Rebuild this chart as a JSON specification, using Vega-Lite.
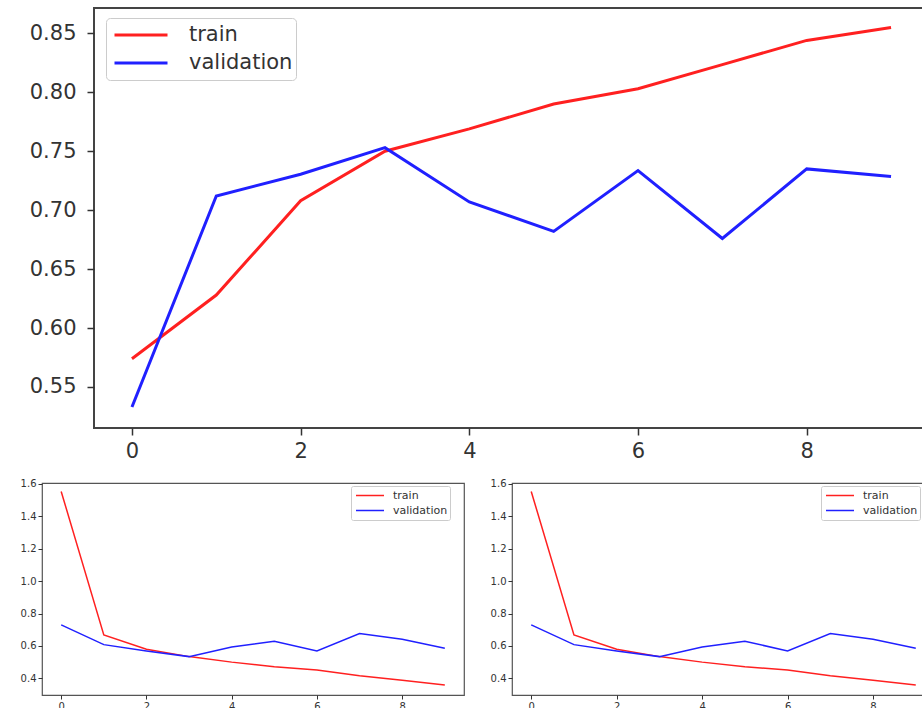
{
  "$schema": "https://vega.github.io/schema/vega-lite/v6.json",
  "background": "white",
  "padding": {"left": 19, "top": 7, "right": 0, "bottom": 0},
  "config": {
    "font": "DejaVu Sans",
    "view": {"stroke": null},
    "axis": {"grid": false, "domain": false, "title": null, "labelColor": "#333333", "tickColor": "#333333", "labelFont": "DejaVu Sans"},
    "legend": {"labelFont": "DejaVu Sans", "labelColor": "#333333"}
  },
  "datasets": {
    "acc": [
      {"epoch": 0, "series": "train", "value": 0.574},
      {"epoch": 1, "series": "train", "value": 0.628},
      {"epoch": 2, "series": "train", "value": 0.708},
      {"epoch": 3, "series": "train", "value": 0.750},
      {"epoch": 4, "series": "train", "value": 0.769},
      {"epoch": 5, "series": "train", "value": 0.790},
      {"epoch": 6, "series": "train", "value": 0.803},
      {"epoch": 7, "series": "train", "value": 0.8235},
      {"epoch": 8, "series": "train", "value": 0.844},
      {"epoch": 9, "series": "train", "value": 0.855},
      {"epoch": 0, "series": "validation", "value": 0.533},
      {"epoch": 1, "series": "validation", "value": 0.712},
      {"epoch": 2, "series": "validation", "value": 0.7305},
      {"epoch": 3, "series": "validation", "value": 0.753},
      {"epoch": 4, "series": "validation", "value": 0.707},
      {"epoch": 5, "series": "validation", "value": 0.682},
      {"epoch": 6, "series": "validation", "value": 0.7336},
      {"epoch": 7, "series": "validation", "value": 0.676},
      {"epoch": 8, "series": "validation", "value": 0.735},
      {"epoch": 9, "series": "validation", "value": 0.7285}
    ],
    "loss": [
      {"epoch": 0, "series": "train", "value": 1.554},
      {"epoch": 1, "series": "train", "value": 0.668},
      {"epoch": 2, "series": "train", "value": 0.579},
      {"epoch": 3, "series": "train", "value": 0.534},
      {"epoch": 4, "series": "train", "value": 0.500},
      {"epoch": 5, "series": "train", "value": 0.472},
      {"epoch": 6, "series": "train", "value": 0.451},
      {"epoch": 7, "series": "train", "value": 0.416},
      {"epoch": 8, "series": "train", "value": 0.388},
      {"epoch": 9, "series": "train", "value": 0.359},
      {"epoch": 0, "series": "validation", "value": 0.730},
      {"epoch": 1, "series": "validation", "value": 0.608},
      {"epoch": 2, "series": "validation", "value": 0.569},
      {"epoch": 3, "series": "validation", "value": 0.534},
      {"epoch": 4, "series": "validation", "value": 0.594},
      {"epoch": 5, "series": "validation", "value": 0.629},
      {"epoch": 6, "series": "validation", "value": 0.569},
      {"epoch": 7, "series": "validation", "value": 0.676},
      {"epoch": 8, "series": "validation", "value": 0.641},
      {"epoch": 9, "series": "validation", "value": 0.586}
    ]
  },
  "vconcat": [
    {
      "hconcat": [
        {
          "width": 52,
          "height": 420,
          "data": {"values": [{"a": 1}]},
          "mark": {"type": "point", "opacity": 0},
          "encoding": {}
        },
        {
          "width": 835,
          "height": 420,
          "view": {"stroke": "#444444", "strokeWidth": 2},
          "data": {"name": "acc"},
          "mark": {"type": "line", "strokeWidth": 3},
          "encoding": {
            "x": {"field": "epoch", "type": "quantitative", "scale": {"domain": [-0.45, 9.45], "nice": false, "zero": false},
                  "axis": {"values": [0, 2, 4, 6, 8], "labelFontSize": 21, "tickSize": 7, "tickWidth": 1.5, "labelPadding": 5}},
            "y": {"field": "value", "type": "quantitative", "scale": {"domain": [0.5152, 0.8715], "nice": false, "zero": false},
                  "axis": {"values": [0.55, 0.6, 0.65, 0.7, 0.75, 0.8, 0.85], "format": ".2f", "labelFontSize": 21, "tickSize": 7, "tickWidth": 1.5, "labelPadding": 11}},
            "color": {"field": "series", "type": "nominal",
                      "scale": {"domain": ["train", "validation"], "range": ["#ff2020", "#2020ff"]},
                      "legend": {"title": null, "orient": "none", "legendX": 12, "legendY": 10, "symbolType": "stroke", "symbolSize": 2809, "symbolStrokeWidth": 3, "symbolOffset": 4,
                                 "labelFontSize": 21, "labelOffset": 20, "clipHeight": 28, "rowPadding": 0, "padding": 3,
                                 "strokeColor": "#cccccc", "fillColor": "white", "cornerRadius": 4}}
          }
        }
      ],
      "spacing": 0,
      "bounds": "flush",
      "resolve": {"scale": {"color": "independent"}, "legend": {"color": "independent"}}
    },
    {
      "hconcat": [
        {
          "width": 422,
          "height": 212,
          "view": {"stroke": "#555555", "strokeWidth": 1.2},
          "data": {"name": "loss"},
          "mark": {"type": "line", "strokeWidth": 1.5},
          "encoding": {
            "x": {"field": "epoch", "type": "quantitative", "scale": {"domain": [-0.45, 9.45], "nice": false, "zero": false},
                  "axis": {"values": [0, 2, 4, 6, 8], "labelFontSize": 10, "tickSize": 4, "labelPadding": 2}},
            "y": {"field": "value", "type": "quantitative", "scale": {"domain": [0.297, 1.606], "nice": false, "zero": false},
                  "axis": {"values": [0.4, 0.6, 0.8, 1.0, 1.2, 1.4, 1.6], "format": ".1f", "labelFontSize": 10, "tickSize": 4, "labelPadding": 2}},
            "color": {"field": "series", "type": "nominal",
                      "scale": {"domain": ["train", "validation"], "range": ["#ff2020", "#2020ff"]},
                      "legend": {"title": null, "orient": "none", "legendX": 309, "legendY": 3, "symbolType": "stroke", "symbolSize": 784, "symbolStrokeWidth": 1.5, "symbolOffset": 2,
                                 "labelFontSize": 11, "labelOffset": 8, "clipHeight": 15, "rowPadding": 0, "padding": 2,
                                 "strokeColor": "#cccccc", "fillColor": "white", "cornerRadius": 2}}
          }
        },
        {
          "width": 423,
          "height": 212,
          "view": {"stroke": "#555555", "strokeWidth": 1.2},
          "data": {"name": "loss"},
          "mark": {"type": "line", "strokeWidth": 1.5},
          "encoding": {
            "x": {"field": "epoch", "type": "quantitative", "scale": {"domain": [-0.45, 9.45], "nice": false, "zero": false},
                  "axis": {"values": [0, 2, 4, 6, 8], "labelFontSize": 10, "tickSize": 4, "labelPadding": 2}},
            "y": {"field": "value", "type": "quantitative", "scale": {"domain": [0.297, 1.606], "nice": false, "zero": false},
                  "axis": {"values": [0.4, 0.6, 0.8, 1.0, 1.2, 1.4, 1.6], "format": ".1f", "labelFontSize": 10, "tickSize": 4, "labelPadding": 2}},
            "color": {"field": "series", "type": "nominal",
                      "scale": {"domain": ["train", "validation"], "range": ["#ff2020", "#2020ff"]},
                      "legend": {"title": null, "orient": "none", "legendX": 309, "legendY": 3, "symbolType": "stroke", "symbolSize": 784, "symbolStrokeWidth": 1.5, "symbolOffset": 2,
                                 "labelFontSize": 11, "labelOffset": 8, "clipHeight": 15, "rowPadding": 0, "padding": 2,
                                 "strokeColor": "#cccccc", "fillColor": "white", "cornerRadius": 2}}
          }
        }
      ],
      "spacing": 48,
      "bounds": "flush",
      "resolve": {"scale": {"color": "independent"}, "legend": {"color": "independent"}}
    }
  ],
  "spacing": 16,
  "bounds": "full",
  "resolve": {"scale": {"color": "independent"}, "legend": {"color": "independent"}}
}
